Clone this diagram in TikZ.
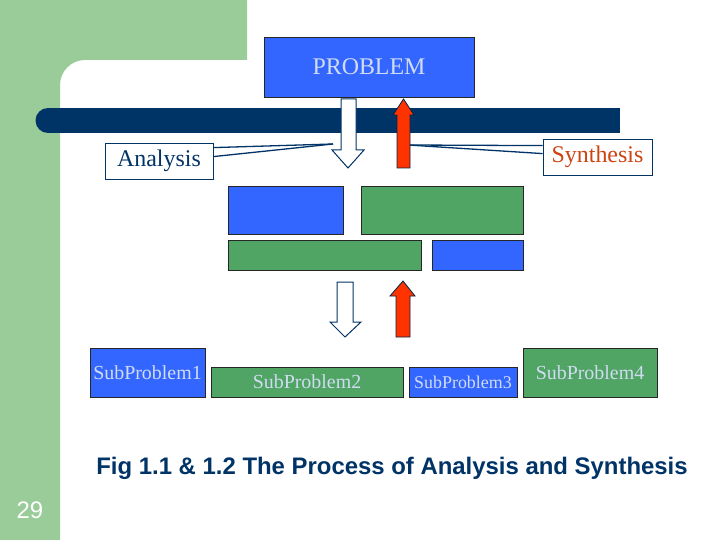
\documentclass[tikz,border=0pt]{standalone}
\usepackage{fontspec}
\setmainfont{Liberation Serif}
\newfontfamily\capfont{Liberation Sans}
\usepackage{tikz}
\usetikzlibrary{calc}

\definecolor{bggreen}{HTML}{99CC99}
\definecolor{navy}{HTML}{003366}
\definecolor{probblue}{HTML}{3366FF}
\definecolor{probgreen}{HTML}{50A464}
\definecolor{arrowred}{HTML}{FF3300}
\definecolor{boxtext}{HTML}{D0DCF2}
\definecolor{syntext}{HTML}{CC4411}

\begin{document}
\begin{tikzpicture}[x=1bp,y=-1bp]

\tikzset{box/.style = {draw=black!85,line width=0.8bp,inner sep=0pt,text=boxtext}}
\tikzset{bluebox/.style = {box,fill=probblue}}
\tikzset{greenbox/.style = {box,fill=probgreen}}
\tikzset{label/.style = {draw=navy,line width=0.8bp,fill=white,inner sep=0pt}}
\tikzset{callout/.style = {draw=navy,line width=1.3bp}}
\tikzset{whitearrow/.style = {fill=white,draw=navy,line width=1bp,line join=miter}}
\tikzset{redarrow/.style = {fill=arrowred,draw=navy!70!black,line width=0.8bp,line join=miter}}

\useasboundingbox[fill=white] (0,0) rectangle (720,540);

%background
\fill[bggreen] (0,0) -| (247,60) -- (85,60) arc[start angle=-90,end angle=-180,radius=25] -- (60,540) -| cycle;
\fill[navy] (48,108) rectangle (620,133);
\fill[navy] (48,120.5) circle[radius=12.5];

%vertex
\node[bluebox,minimum width=210bp,minimum height=60bp,font=\fontsize{24}{28}\selectfont] (prob) at (369,67) {PROBLEM};
\node[label,minimum width=108bp,minimum height=36bp,text=navy,font=\fontsize{24}{28}\selectfont] (ana) at (159,161) {Analysis};
\node[label,minimum width=109bp,minimum height=36bp,text=syntext,font=\fontsize{24}{28}\selectfont] (syn) at (597.5,157) {Synthesis};

\node[bluebox,minimum width=115bp,minimum height=48bp] (b1) at (285.5,210) {};
\node[greenbox,minimum width=162bp,minimum height=48bp] (b2) at (442,210) {};
\node[greenbox,minimum width=193bp,minimum height=30bp] (b3) at (324.5,255) {};
\node[bluebox,minimum width=91bp,minimum height=30bp] (b4) at (477.5,255) {};

\node[bluebox,minimum width=115bp,minimum height=49bp,font=\fontsize{20}{24}\selectfont] (sp1) at (147.5,372.5) {SubProblem1};
\node[greenbox,minimum width=192bp,minimum height=30bp,font=\fontsize{20}{24}\selectfont] (sp2) at (307,382) {SubProblem2};
\node[bluebox,minimum width=108bp,minimum height=30bp,font=\fontsize{18}{22}\selectfont] (sp3) at (463,382) {SubProblem3};
\node[greenbox,minimum width=134bp,minimum height=49bp,font=\fontsize{20}{24}\selectfont] (sp4) at (590,372.5) {SubProblem4};

%callout lines
\coordinate (atip) at (333,144);
\coordinate (stip) at (408,145);
\draw[callout] ($(ana.north east)+(0,5)$) -- (atip);
\draw[callout] ($(ana.north east)+(0,14)$) -- (atip);
\draw[callout] ($(syn.north west)+(0,7)$) -- (stip);
\draw[callout] ($(syn.north west)+(0,15)$) -- (stip);

%arrows top
\draw[whitearrow] (341,99) -- (356,99) -- (356,150) -- (364,150) -- (348,168) -- (332,150) -- (341,150) -- cycle;
\draw[redarrow] (397,168) -- (410,168) -- (410,115) -- (414,115) -- (403.5,99) -- (393,115) -- (397,115) -- cycle;

%arrows bottom
\draw[whitearrow] (337,282) -- (353,282) -- (353,322) -- (361,322) -- (345,337) -- (330,322) -- (337,322) -- cycle;
\draw[redarrow] (396,337) -- (410,337) -- (410,296) -- (415,296) -- (403,281) -- (390,296) -- (396,296) -- cycle;

%caption
\node[text=navy,font=\capfont\bfseries\fontsize{24}{28}\selectfont] (cap) at (392,468) {Fig 1.1 \& 1.2 The Process of Analysis and Synthesis};
\node[text=white,font=\capfont\fontsize{24}{28}\selectfont] (num) at (30,510) {29};

\end{tikzpicture}
\end{document}
